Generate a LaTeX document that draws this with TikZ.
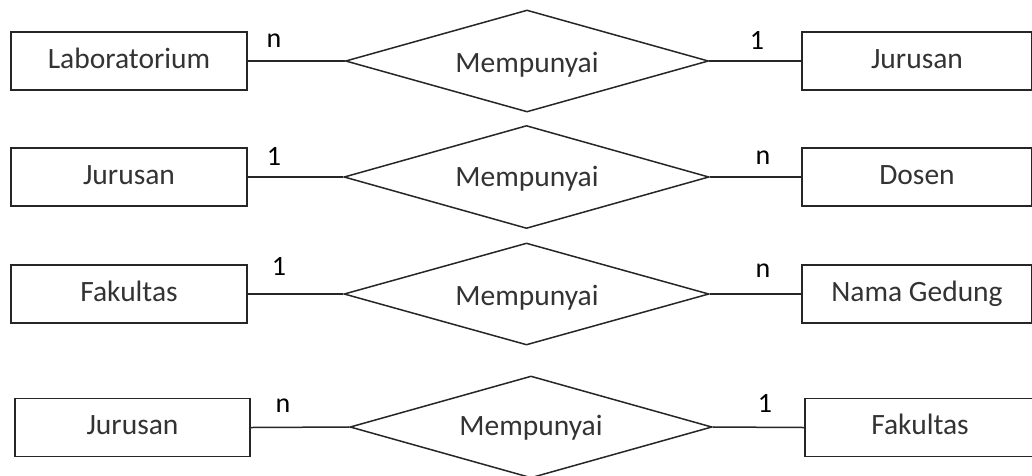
\documentclass[tikz,border=0pt]{standalone}
\usepackage{fontspec}
\setmainfont{Carlito}
\usetikzlibrary{shapes.geometric}
\definecolor{txt}{HTML}{333333}
\definecolor{ln}{HTML}{262626}
\tikzset{
  ent/.style={draw=ln, line width=1.5pt, rectangle, minimum height=58pt, inner sep=0pt,
     text height=14pt, text depth=0pt, text=txt, font=\fontsize{29.5}{32}\selectfont},
  rel/.style={draw=ln, line width=1.5pt, diamond, inner sep=0pt},
  reltext/.style={anchor=base, text=txt, font=\fontsize{29.5}{32}\selectfont, inner sep=0pt},
  card/.style={anchor=base, text=black, font=\fontsize{28}{30}\selectfont, inner sep=0pt},
  conn/.style={draw=ln, line width=1.5pt}
}
\begin{document}
\begin{tikzpicture}[x=1pt,y=-1pt]
\useasboundingbox (0,0) rectangle (1032,475);
\clip (0,0) rectangle (1032,475);
% Row 1
\node[ent, minimum width=236pt] (l1) at (129,61) {Laboratorium};
\node[rel, minimum width=363pt, minimum height=102pt] (d1) at (527,61) {};
\node[reltext] (t1) at (527,72) {Mempunyai};
\node[ent, minimum width=230pt] (r1) at (917,61) {Jurusan};
\draw[conn] (l1.east) -- (d1.west);
\draw[conn] (d1.east) -- (r1.west);
\node[card] (c1a) at (274,47) {n};
\node[card] (c1b) at (757,49) {1};
% Row 2
\node[ent, minimum width=236pt] (l2) at (129,177) {Jurusan};
\node[rel, minimum width=365pt, minimum height=103pt] (d2) at (526.5,177) {};
\node[reltext] (t2) at (527,186) {Mempunyai};
\node[ent, minimum width=230pt] (r2) at (917,177) {Dosen};
\draw[conn] (l2.east) -- (d2.west);
\draw[conn] (d2.east) -- (r2.west);
\node[card] (c2a) at (274,165) {1};
\node[card] (c2b) at (763,164) {n};
% Row 3
\node[ent, minimum width=236pt] (l3) at (129,294) {Fakultas};
\node[rel, minimum width=365pt, minimum height=102pt] (d3) at (526.5,294) {};
\node[reltext] (t3) at (527,305) {Mempunyai};
\node[ent, minimum width=230pt] (r3) at (917,294) {Nama Gedung};
\draw[conn] (l3.east) -- (d3.west);
\draw[conn] (d3.east) -- (r3.west);
\node[card] (c3a) at (279,275) {1};
\node[card] (c3b) at (763,277) {n};
% Row 4
\node[ent, minimum width=235pt] (l4) at (132.5,427.5) {Jurusan};
\node[rel, minimum width=362pt, minimum height=102pt] (d4) at (531,427) {};
\node[reltext] (t4) at (531,435) {Mempunyai};
\node[ent, minimum width=230pt] (r4) at (920,427.5) {Fakultas};
\draw[conn] (l4.east) -- (d4.west);
\draw[conn] (d4.east) -- (r4.west);
\node[card] (c4a) at (283,412) {n};
\node[card] (c4b) at (765,412) {1};
\end{tikzpicture}
\end{document}
